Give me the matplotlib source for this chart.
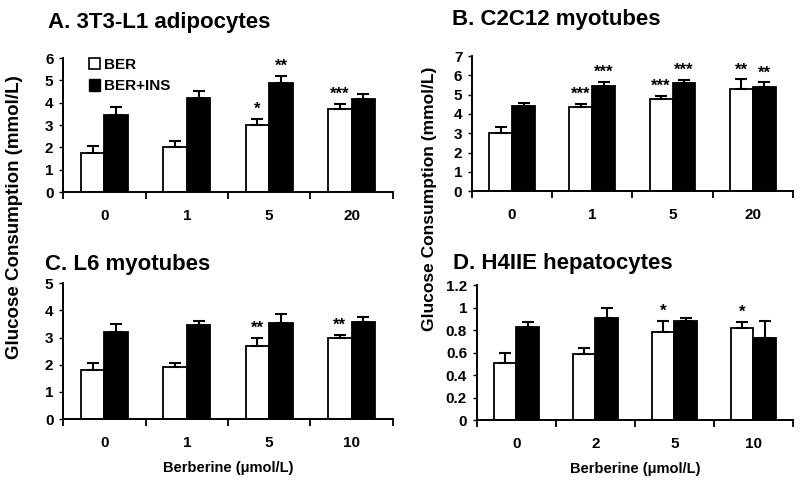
import numpy as np
import matplotlib
matplotlib.use("Agg")
import matplotlib.pyplot as plt
from matplotlib.patches import Patch

plt.rcParams['font.family'] = ['Liberation Sans', 'DejaVu Sans']
plt.rcParams['font.weight'] = 'bold'
plt.rcParams['axes.labelweight'] = 'bold'

# Glucose consumption (mmol/L), mean and top of error bar
a_labels = ['0', '1', '5', '20']
a_ber = [1.75, 2.0, 3.0, 3.72]
a_ber_err = [0.31, 0.29, 0.27, 0.23]
a_ins = [3.45, 4.22, 4.9, 4.15]
a_ins_err = [0.38, 0.32, 0.3, 0.25]
a_ber_sig = ['', '', '*', '***']
a_ins_sig = ['', '', '**', '']

b_labels = ['0', '1', '5', '20']
b_ber = [3.0, 4.38, 4.77, 5.27]
b_ber_err = [0.3, 0.15, 0.16, 0.52]
b_ins = [4.42, 5.45, 5.6, 5.4]
b_ins_err = [0.13, 0.2, 0.17, 0.24]
b_ber_sig = ['', '***', '***', '**']
b_ins_sig = ['', '***', '***', '**']

c_labels = ['0', '1', '5', '10']
c_ber = [1.82, 1.9, 2.7, 3.0]
c_ber_err = [0.23, 0.17, 0.28, 0.1]
c_ins = [3.2, 3.45, 3.55, 3.58]
c_ins_err = [0.3, 0.15, 0.31, 0.17]
c_ber_sig = ['', '', '**', '**']
c_ins_sig = ['', '', '', '']

d_labels = ['0', '2', '5', '10']
d_ber = [0.51, 0.59, 0.78, 0.82]
d_ber_err = [0.09, 0.05, 0.1, 0.05]
d_ins = [0.83, 0.91, 0.88, 0.73]
d_ins_err = [0.04, 0.09, 0.03, 0.15]
d_ber_sig = ['', '', '*', '*']
d_ins_sig = ['', '', '', '']


def draw_panel(ax, labels, ber, ber_err, ins, ins_err, ber_sig, ins_sig, ymax, ystep, xlabel=False):
    x = np.arange(len(labels))
    w = 0.285

    ax.bar(x - w / 2, ber, w, color='white', edgecolor='black', linewidth=1.3, zorder=2)
    ax.bar(x + w / 2, ins, w, color='black', edgecolor='black', linewidth=1.3, zorder=2)
    zeros = [0] * len(x)
    ax.errorbar(x - w / 2, ber, yerr=[zeros, ber_err], fmt='none', ecolor='black',
                elinewidth=1.5, capsize=4, capthick=1.5, zorder=3)
    ax.errorbar(x + w / 2, ins, yerr=[zeros, ins_err], fmt='none', ecolor='black',
                elinewidth=1.5, capsize=4, capthick=1.5, zorder=1)

    # significance stars above the error bars
    for i in range(len(x)):
        if ber_sig[i]:
            ax.annotate(ber_sig[i], (x[i] - w / 2, ber[i] + ber_err[i]), xytext=(0, 1.5),
                        textcoords='offset points', ha='center', va='bottom', fontsize=12)
        if ins_sig[i]:
            ax.annotate(ins_sig[i], (x[i] + w / 2, ins[i] + ins_err[i]), xytext=(0, 1.5),
                        textcoords='offset points', ha='center', va='bottom', fontsize=12)

    ax.set_xlim(-0.5, len(x) - 0.5)
    ax.set_ylim(0, ymax)
    yt = np.arange(0, ymax + ystep / 2, ystep)
    ax.set_yticks(yt)
    ax.set_yticklabels(['%g' % round(v, 1) for v in yt], fontsize=11)

    ax.set_xticks(np.arange(-0.5, len(x), 1.0))
    ax.set_xticklabels([])
    ax.set_xticks(x, minor=True)
    ax.set_xticklabels(labels, minor=True, fontsize=11)
    ax.tick_params(axis='x', which='major', length=5, width=1.3, direction='out')
    ax.tick_params(axis='x', which='minor', length=0, pad=12)
    ax.tick_params(axis='y', length=3, width=1.0, pad=4)

    for s in ['top', 'right']:
        ax.spines[s].set_visible(False)
    for s in ['left', 'bottom']:
        ax.spines[s].set_linewidth(1.4)

    if xlabel:
        ax.set_xlabel('Berberine (μmol/L)', fontsize=10.5, labelpad=8)


def main():
    fig = plt.figure(figsize=(8, 4.8), dpi=100)

    ax_a = fig.add_axes([0.079, 0.600, 0.412, 0.279])
    ax_b = fig.add_axes([0.590, 0.602, 0.401, 0.281])
    ax_c = fig.add_axes([0.079, 0.127, 0.412, 0.283])
    ax_d = fig.add_axes([0.596, 0.125, 0.395, 0.281])

    draw_panel(ax_a, a_labels, a_ber, a_ber_err, a_ins, a_ins_err, a_ber_sig, a_ins_sig, 6, 1)
    draw_panel(ax_b, b_labels, b_ber, b_ber_err, b_ins, b_ins_err, b_ber_sig, b_ins_sig, 7, 1)
    draw_panel(ax_c, c_labels, c_ber, c_ber_err, c_ins, c_ins_err, c_ber_sig, c_ins_sig, 5, 1, xlabel=True)
    draw_panel(ax_d, d_labels, d_ber, d_ber_err, d_ins, d_ins_err, d_ber_sig, d_ins_sig, 1.2, 0.2, xlabel=True)

    # panel titles
    fig.text(0.060, 0.953, 'A. 3T3-L1 adipocytes', fontsize=16, va='center')
    fig.text(0.565, 0.960, 'B. C2C12 myotubes', fontsize=16, va='center')
    fig.text(0.056, 0.448, 'C. L6 myotubes', fontsize=16, va='center')
    fig.text(0.566, 0.450, 'D. H4IIE hepatocytes', fontsize=16, va='center')

    # shared y labels
    fig.text(0.018, 0.548, 'Glucose Consumption (mmol/L)', rotation=90, fontsize=13.5,
             ha='center', va='center')
    fig.text(0.537, 0.585, 'Glucose Consumption (mmol/L)', rotation=90, fontsize=12.5,
             ha='center', va='center')

    handles = [Patch(facecolor='white', edgecolor='black', linewidth=1.2),
               Patch(facecolor='black', edgecolor='black')]
    ax_a.legend(handles, ['BER', 'BER+INS'], loc='upper left', bbox_to_anchor=(0.055, 1.06),
                frameon=False, fontsize=11, handlelength=0.75, handleheight=0.75,
                handletextpad=0.25, labelspacing=0.5, borderpad=0)

    fig.savefig('out.png', dpi=100)


if __name__ == "__main__":
    main()
